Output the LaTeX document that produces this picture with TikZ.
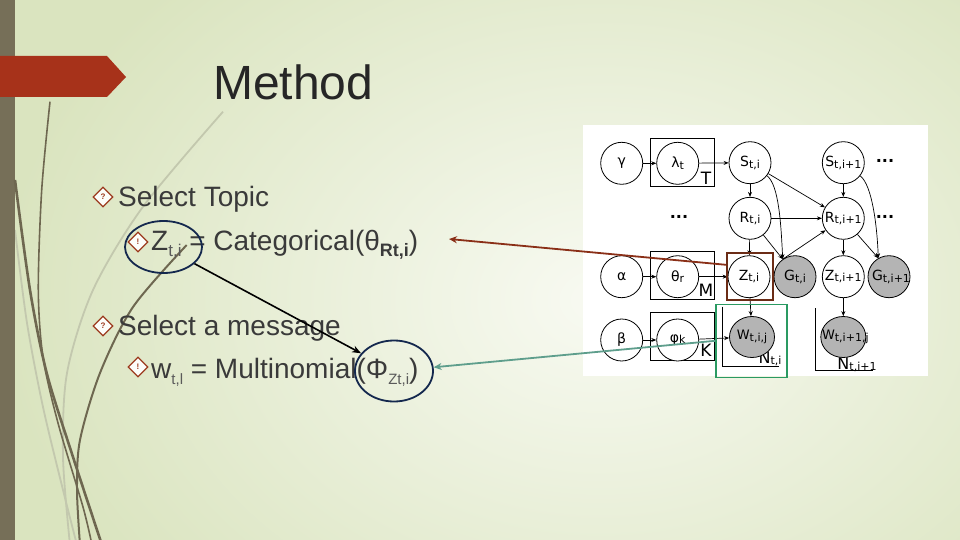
\documentclass[tikz,border=0pt]{standalone}
\usepackage{fontspec}
\setmainfont{Liberation Sans}
\newfontfamily\dv{DejaVu Sans}
\usetikzlibrary{arrows.meta,shapes.geometric}
\definecolor{bgin}{HTML}{F8FAF2}
\definecolor{bgout}{HTML}{DAE4BF}
\definecolor{barc}{HTML}{766F58}
\definecolor{tabc}{HTML}{A7321A}
\definecolor{txtc}{HTML}{3A3A3A}
\definecolor{subc}{HTML}{5A5A5A}
\definecolor{titc}{HTML}{262626}
\definecolor{bulc}{HTML}{9C3A1E}
\definecolor{navy}{HTML}{14284E}
\definecolor{brarr}{HTML}{8A2F17}
\definecolor{brbox}{HTML}{6B2C16}
\definecolor{tealarr}{HTML}{5E9E8C}
\definecolor{grbox}{HTML}{2A9A62}
\definecolor{gnode}{HTML}{B4B4B4}
\definecolor{decodark}{HTML}{6E6750}
\definecolor{decolight}{HTML}{C3C8AE}
\newcommand\lsub[1]{\raisebox{-6pt}{\fontsize{17}{17}\selectfont\color{subc}#1}}
\newcommand\msub[1]{\raisebox{-6pt}{\fontsize{15}{15}\selectfont\color{subc}#1}}
\newcommand\bsub[1]{\raisebox{-6pt}{\fontsize{18}{18}\selectfont\bfseries #1}}
\newcommand\ns[1]{\raisebox{-1.5pt}{\fontsize{11}{11}\selectfont #1}}
\begin{document}
\begin{tikzpicture}[x=1pt,y=-1pt,
  gm/.style={circle,draw,line width=0.8pt,minimum size=42pt,inner sep=0pt,fill=white,font=\dv\fontsize{14}{14}\selectfont},
  obs/.style={gm,fill=gnode},
  wobs/.style={ellipse,draw,line width=0.8pt,minimum width=45pt,minimum height=41pt,inner sep=0pt,fill=gnode,font=\dv\fontsize{13}{13}\selectfont},
  ed/.style={draw,line width=0.7pt,-{Stealth[length=5pt,width=4pt]}},
  platebox/.style={draw,line width=0.8pt,minimum width=64pt,minimum height=48pt,inner sep=0pt},
  platelbl/.style={font=\dv\fontsize{17}{17}\selectfont,inner sep=0pt},
  dots/.style={font=\dv\bfseries\fontsize{16}{16}\selectfont,inner sep=0pt},
  bul/.style={diamond,draw=bulc,line width=1.3pt,minimum size=20pt,inner sep=0pt,fill=white!60!bgin,text=bulc,font=\bfseries\fontsize{8}{8}\selectfont},
  body/.style={anchor=base west,inner sep=0pt,text=txtc,font=\fontsize{28}{28}\selectfont},
  deco/.style={draw=decodark,line width=2pt},
  decol/.style={draw=decolight,line width=1.8pt}
]
\useasboundingbox (0,0) rectangle (960,540);
\begin{scope}
\clip (0,0) rectangle (960,540);
\shade[inner color=bgin,outer color=bgout] (0,-150) rectangle (1200,750);
% left decoration
\draw[decol] plot[smooth] coordinates {(223,111.7) (143,206.7) (93,290) (67,373) (63,457) (70,545)};
\draw[decol] plot[smooth] coordinates {(15,230) (27,323) (43,407) (63,490) (77,545)};
\fill[barc] (0,0) rectangle (15,540);
\draw[deco,line width=1.6pt] plot[smooth] coordinates {(50,101.7) (41.7,190) (38.3,290) (43,357) (58,423) (83,507) (92,545)};
\draw[deco,line width=2.6pt] plot[smooth] coordinates {(15,180) (30,290) (46.7,373) (73,457) (102,545)};
\draw[deco] plot[smooth] coordinates {(186.7,245) (133,307) (100,373) (80,440) (77,490) (80,545)};
\end{scope}
\fill[tabc] (0,56) -- (107,56) -- (126,77) -- (107,97) -- (0,97) -- cycle;
% title
\node[anchor=base west,inner sep=0pt,text=titc,font=\fontsize{48}{48}\selectfont] (title) at (213,100) {Method};
% bullets and text
\node[bul] (b1) at (103,197) {?};
\node[body] (t1) at (118,206) {Select Topic};
\node[bul] (b2) at (138,242) {!};
\node[body] (t2) at (151,250) {Z\lsub{t,i} = Categorical(θ\bsub{Rt,i})};
\node[bul] (b3) at (103,326) {?};
\node[body] (t3) at (118,335) {Select a message};
\node[bul] (b4) at (138,367) {!};
\node[body] (t4) at (151,378) {w\msub{t,l} = Multinomial(Φ\msub{Zt,i})};
% ellipses
\node[ellipse,draw=navy,line width=1.8pt,minimum width=77pt,minimum height=52pt,inner sep=0pt] (e1) at (163.5,247) {};
\node[ellipse,draw=navy,line width=1.8pt,minimum width=78pt,minimum height=61pt,inner sep=0pt] (e2) at (394,371) {};
\draw[line width=1.6pt,-{Stealth[length=9pt,width=7pt]}] (e1) -- (e2);
% panel
\fill[white] (583,125) rectangle (928,376);
\node[platebox] (pT) at (682,162) {};
\node[platebox] (pM) at (682,275.8) {};
\node[platebox] (pK) at (682,336.7) {};
\node[platelbl] (lT) at (706,178) {T};
\node[platelbl] (lM) at (706,290) {M};
\node[platelbl] (lK) at (706,350) {K};
\draw[line width=0.8pt] (722.7,306.7) -- (722.7,366.7) -- (779.3,366.7);
\draw[line width=0.8pt] (815,308) -- (815,370.7) -- (873.3,370.7);
\node[platelbl,font=\dv\fontsize{16}{16}\selectfont] (lN1) at (770,359) {N\ns{t,i}};
\node[platelbl,font=\dv\fontsize{16}{16}\selectfont] (lN2) at (857,365) {N\ns{t,i+1}};
\node[gm] (gam) at (621.7,163.3) {γ};
\node[gm] (lam) at (677.7,163.3) {λ\ns{t}};
\node[gm] (S1) at (750,162.7) {S\ns{t,i}};
\node[gm] (S2) at (843.3,162.7) {S\ns{t,i+1}};
\node[gm] (R1) at (750,218.3) {R\ns{t,i}};
\node[gm] (R2) at (843.3,218.3) {R\ns{t,i+1}};
\node[gm] (alp) at (621.7,276.7) {α};
\node[gm] (th) at (677.7,276.7) {θ\ns{r}};
\node[gm] (Z1) at (749,276.7) {Z\ns{t,i}};
\node[obs] (G1) at (795,276.7) {G\ns{t,i}};
\node[gm] (Z2) at (843.3,276.7) {Z\ns{t,i+1}};
\node[obs] (G2) at (889,276.7) {\makebox[0pt]{\hspace{4pt}G\ns{t,i+1}}};
\node[gm] (bet) at (621.7,340) {β};
\node[gm] (phi) at (677.7,340) {φ\ns{k}};
\node[wobs] (W1) at (752,337) {\makebox[0pt]{W\ns{t,i,j}}};
\node[wobs] (W2) at (843.3,337) {\makebox[0pt]{\hspace{4pt}W\ns{t,i+1,j}}};
\node[dots] (d1) at (885,161) {...};
\node[dots] (d2) at (679,217) {...};
\node[dots] (d3) at (885,217) {...};
\draw[ed] (gam) -- (lam);
\draw[ed] (lam) -- (S1);
\draw[ed] (S1) -- (R1);
\draw[ed] (S1) -- (R2);
\draw[ed] (S1) .. controls (779,185) and (781,225) .. (G1.125);
\draw[ed] (R1) -- (R2);
\draw[ed] (R1) -- (Z1);
\draw[ed] (R1) -- (G1.125);
\draw[ed] (G1.125) -- (R2);
\draw[ed] (S2) -- (R2);
\draw[ed] (S2) .. controls (872,185) and (877,225) .. (G2.120);
\draw[ed] (R2) -- (Z2);
\draw[ed] (R2) -- (G2.120);
\draw[ed] (alp) -- (th);
\draw[ed] (th) -- (Z1);
\draw[ed] (Z1) -- (W1);
\draw[ed] (bet) -- (phi);
\draw[ed] (phi) -- (W1);
\draw[ed] (Z2) -- (W2);
% highlight boxes and arrows
\node[draw=brbox,line width=1.6pt,minimum width=46pt,minimum height=47.3pt,inner sep=0pt] (zbox) at (749.7,276.4) {};
\node[draw=grbox,line width=1.6pt,minimum width=70.7pt,minimum height=73pt,inner sep=0pt] (gbox) at (751.4,340.8) {};
\coordinate (catend) at (449,239);
\draw[brarr,line width=1.8pt,-{Stealth[length=8pt,width=7pt]}] (zbox.154) -- (catend);
\draw[tealarr,line width=1.8pt,-{Stealth[length=8pt,width=7pt]}] (gbox.west) -- (e2);
\end{tikzpicture}
\end{document}
